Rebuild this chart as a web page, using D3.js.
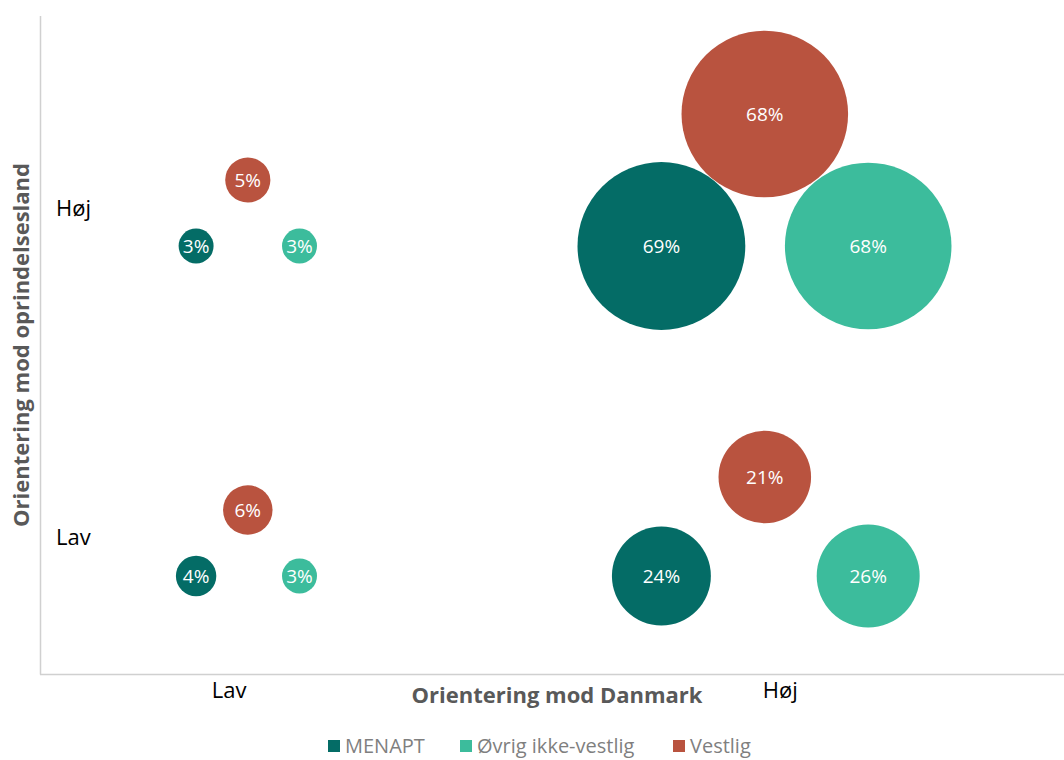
<!DOCTYPE html>
<html>
<head>
<meta charset="utf-8">
<script src="https://cdn.jsdelivr.net/npm/d3@7"></script>
<style>
  body { margin: 0; background: #fff; }
  text { font-family: "Open Sans", sans-serif; }
</style>
</head>
<body>
<div id="wrapper"></div>
<script>
// data
const series = ["MENAPT", "Øvrig ikke-vestlig", "Vestlig"]
const colors = ["#046c66", "#3cbc9c", "#b9533f"]
// each bubble: series index, x position, y position, value (%)
const bubbleSeries = [0, 1, 2, 0, 1, 2, 0, 1, 2, 0, 1, 2]
const bubbleX = [1.5, 2.5, 2, 1.5, 2.5, 2, 6, 8, 7, 6, 8, 7]
const bubbleY = [6.5, 6.5, 7.5, 1.5, 1.5, 2.5, 6.5, 6.5, 8.5, 1.5, 1.5, 3]
const bubbleValue = [3, 3, 5, 4, 3, 6, 69, 68, 68, 24, 26, 21]
const xTickLabels = ["Lav", "Høj"]
const xTickPos = [1.82, 7.15]
const yTickLabels = ["Lav", "Høj"]
const yTickPos = [2.09, 7.07]

const dataset = bubbleValue.map((v, i) => ({
  s: bubbleSeries[i], x: bubbleX[i], y: bubbleY[i], v: v
}))

const width = 1064, height = 760

const svg = d3.select("#wrapper").append("svg")
    .attr("width", width)
    .attr("height", height)

const xScale = d3.scaleLinear().domain([0, 10]).range([41, 1075])
const yScale = d3.scaleLinear().domain([0, 10]).range([675, 15])
const rScale = d3.scaleSqrt().domain([0, 100]).range([0, 101])

// axis lines
svg.append("line")
    .attr("x1", 40.5).attr("x2", 40.5)
    .attr("y1", 16).attr("y2", 674.5)
    .attr("stroke", "#d0d0d0").attr("stroke-width", 1.5)
svg.append("line")
    .attr("x1", 40).attr("x2", width)
    .attr("y1", 674.5).attr("y2", 674.5)
    .attr("stroke", "#d0d0d0").attr("stroke-width", 1.5)

// bubbles
const g = svg.append("g")
g.selectAll("circle")
  .data(dataset).enter().append("circle")
    .attr("cx", d => xScale(d.x))
    .attr("cy", d => yScale(d.y))
    .attr("r", d => rScale(d.v))
    .attr("fill", d => colors[d.s])

g.selectAll(".lbl")
  .data(dataset).enter().append("text")
    .attr("class", "lbl")
    .attr("x", d => xScale(d.x))
    .attr("y", d => yScale(d.y))
    .attr("dy", "0.35em")
    .attr("text-anchor", "middle")
    .attr("fill", "#fff")
    .style("font-size", "19px")
    .text(d => d.v + "%")

// tick labels
svg.selectAll(".xtick")
  .data(xTickLabels).enter().append("text")
    .attr("x", (d, i) => xScale(xTickPos[i]))
    .attr("y", 698)
    .attr("text-anchor", "middle")
    .style("font-size", "22px")
    .attr("fill", "#000")
    .text(d => d)

svg.selectAll(".ytick")
  .data(yTickLabels).enter().append("text")
    .attr("x", 56)
    .attr("y", (d, i) => yScale(yTickPos[i]))
    .attr("dy", "0.35em")
    .style("font-size", "22px")
    .attr("fill", "#000")
    .text(d => d)

// axis titles
svg.append("text")
    .attr("x", 557).attr("y", 703)
    .attr("text-anchor", "middle")
    .style("font-size", "22px").style("font-weight", "bold")
    .attr("fill", "#595959")
    .text("Orientering mod Danmark")

svg.append("text")
    .attr("transform", "translate(29,345) rotate(-90)")
    .attr("text-anchor", "middle")
    .style("font-size", "22px").style("font-weight", "bold")
    .attr("fill", "#595959")
    .text("Orientering mod oprindelsesland")

// legend
const legendX = [328, 460, 673]
const legend = svg.selectAll(".leg")
  .data(series).enter().append("g")
    .attr("transform", (d, i) => `translate(${legendX[i]},746)`)
legend.append("rect")
    .attr("x", 0).attr("y", -6)
    .attr("width", 12).attr("height", 12)
    .attr("fill", (d, i) => colors[i])
legend.append("text")
    .attr("x", 17).attr("dy", "0.35em")
    .style("font-size", "20px")
    .attr("fill", "#7f7f7f")
    .text(d => d)
</script>
</body>
</html>
